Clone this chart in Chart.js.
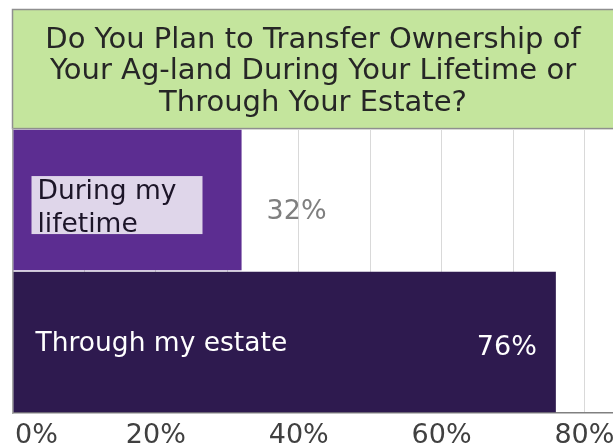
<!DOCTYPE html>
<html><head><meta charset="utf-8">
<script src="https://cdn.jsdelivr.net/npm/chart.js@4/dist/chart.umd.min.js"></script>
<style>html,body{margin:0;padding:0;background:#fff;overflow:hidden}</style>
</head><body>
<canvas id="c" width="613" height="445"></canvas>
<script>
// ---- data ----
const titleLines = ['Do You Plan to Transfer Ownership of', 'Your Ag-land During Your Lifetime or', 'Through Your Estate?'];
const categories = [['During my', 'lifetime'], ['Through my estate']];
const values = [32, 76];
const gridValues = [0, 10, 20, 30, 40, 50, 60, 70, 80];
const labelStep = 20;
const axisMax = 84;

// ---- styles ----
const FONT = '"DejaVu Sans", Verdana, sans-serif';
const barColors = ['#5c2d91', '#2e1a4f'];

const titleBoxPlugin = {
  id: 'titleBox',
  beforeDraw(chart) {
    const tb = chart.titleBlock;
    const ctx = chart.ctx;
    ctx.save();
    ctx.fillStyle = '#c4e59d';
    ctx.fillRect(tb.left - 1, tb.top, chart.width, tb.height);
    ctx.strokeStyle = '#8f8f8f';
    ctx.lineWidth = 1.5;
    ctx.strokeRect(tb.left - 0.5, tb.top + 0.5, chart.width + 10, tb.height - 1);
    ctx.restore();
  }
};

const labelPlugin = {
  id: 'barLabels',
  afterDatasetsDraw(chart) {
    const ctx = chart.ctx;
    const meta = chart.getDatasetMeta(0);
    ctx.save();
    meta.data.forEach((bar, i) => {
      const base = bar.base, end = bar.x, cy = bar.y;
      const lines = categories[i];
      ctx.textAlign = 'left';
      ctx.textBaseline = 'alphabetic';
      ctx.font = '26.5px ' + FONT;
      if (lines.length > 1) {
        ctx.fillStyle = '#dfd6ea';
        ctx.fillRect(base + 18, cy - 24, 171, 58);
        ctx.fillStyle = '#1c1528';
        lines.forEach((t, k) => ctx.fillText(t, base + 24, cy - 1.5 + k * 33));
      } else {
        ctx.fillStyle = '#ffffff';
        ctx.fillText(lines[0], base + 22, cy + 9);
      }
      // value label
      ctx.font = '27px ' + FONT;
      const txt = values[i] + '%';
      if (end - base > 400) {
        ctx.textAlign = 'right';
        ctx.fillStyle = '#ffffff';
        ctx.fillText(txt, end - 19, cy + 13);
      } else {
        ctx.textAlign = 'left';
        ctx.fillStyle = '#7f7f7f';
        ctx.fillText(txt, end + 25, cy + 19);
      }
    });
    ctx.restore();
  }
};

new Chart(document.getElementById('c'), {
  type: 'bar',
  data: {
    labels: categories.map(c => c.join(' ')),
    datasets: [{
      data: values,
      backgroundColor: barColors,
      borderWidth: 0,
      barPercentage: 1,
      categoryPercentage: 0.99
    }]
  },
  options: {
    indexAxis: 'y',
    responsive: false,
    animation: false,
    devicePixelRatio: 1,
    layout: { padding: { top: 9, left: 13, right: 0, bottom: 0 } },
    plugins: {
      legend: { display: false },
      tooltip: { enabled: false },
      title: {
        display: true,
        text: titleLines,
        color: '#262626',
        font: { family: FONT, size: 29, weight: 'normal', lineHeight: 1.086 },
        padding: { top: 15.6, bottom: 10 }
      }
    },
    scales: {
      x: {
        min: 0,
        max: axisMax,
        afterBuildTicks(scale) {
          scale.ticks = gridValues.map(v => ({ value: v }));
        },
        afterFit(scale) {
          scale.height = 32;
          scale.paddingLeft = 0;
          scale.paddingRight = 0;
        },
        afterUpdate(scale) {
          if (!scale._firstLeft) {
            const orig = scale._computeLabelItems;
            scale._computeLabelItems = function (ca) {
              const items = orig.call(this, ca);
              if (items.length) {
                items[0].options.textAlign = 'left';
                items[0].options.translation[0] += 2;
              }
              return items;
            };
            scale._firstLeft = true;
          }
        },
        ticks: {
          autoSkip: false,
          maxRotation: 0,
          padding: 7,
          color: '#404040',
          font: { family: FONT, size: 27 },
          callback: v => (v % labelStep === 0 ? v + '%' : '')
        },
        grid: { color: '#d9d9d9', lineWidth: 1, drawTicks: false },
        border: { display: true, color: '#808080', width: 1.5 }
      },
      y: {
        ticks: { display: false },
        grid: { display: false, drawTicks: false },
        border: { display: true, color: '#a6a6a6', width: 1.5 },
        afterFit(scale) { scale.width = 0; }
      }
    }
  },
  plugins: [titleBoxPlugin, labelPlugin]
});
</script>
</body></html>
